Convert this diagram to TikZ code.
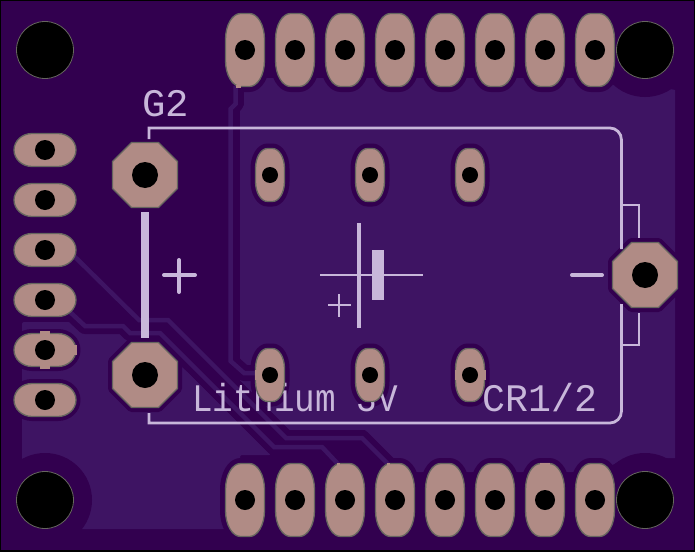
\documentclass[tikz,border=0pt]{standalone}
\usepackage{fontspec}
\newfontfamily\silkfont{Liberation Mono}
\definecolor{boardbg}{HTML}{32004F}
\definecolor{pourcol}{HTML}{3E1463}
\definecolor{padcol}{HTML}{B08B85}
\definecolor{padline}{HTML}{66665F}
\definecolor{silkcol}{HTML}{C8B7DA}
\tikzset{
  padbody/.style={fill=padcol,draw=padline,line width=1.3pt,line join=round},
  padclear/.style={fill=boardbg,draw=boardbg,line width=#1,line join=round},
  tracewire/.style={draw=pourcol,line width=4.5pt,line join=miter},
  traceclear/.style={draw=boardbg,line width=16pt,line join=round},
  silkline/.style={draw=silkcol,line width=2.8pt,line cap=butt},
  silkbold/.style={draw=silkcol,line width=4pt,line cap=round},
  drillhole/.style={fill=black},
  mounthole/.style={fill=black,draw=padline,line width=0.8pt},
  spoke/.style={fill=padcol},
  silktext/.style={text=silkcol,inner sep=0pt,outer sep=0pt,font=\silkfont\fontsize{39}{39}\selectfont}
}
\newcommand\oblong[7]{%
  \pgfmathsetmacro\xa{#2-#4}\pgfmathsetmacro\xb{#2+#4}%
  \pgfmathsetmacro\ya{#3-#5}\pgfmathsetmacro\yb{#3+#5}%
  \pgfmathsetmacro\xc{#2-#4+#6}\pgfmathsetmacro\xd{#2+#4-#6}%
  \pgfmathsetmacro\yc{#3-#5+#7}\pgfmathsetmacro\yd{#3+#5-#7}%
  \pgfmathsetmacro\xe{#2-#4+0.45*#6}\pgfmathsetmacro\xf{#2+#4-0.45*#6}%
  \pgfmathsetmacro\ye{#3-#5+0.45*#7}\pgfmathsetmacro\yf{#3+#5-0.45*#7}%
  \path[#1] (\xa,\yc) .. controls (\xa,\ye) and (\xe,\ya) .. (\xc,\ya) -- (\xd,\ya)
    .. controls (\xf,\ya) and (\xb,\ye) .. (\xb,\yc) -- (\xb,\yd)
    .. controls (\xb,\yf) and (\xf,\yb) .. (\xd,\yb) -- (\xc,\yb)
    .. controls (\xe,\yb) and (\xa,\yf) .. (\xa,\yd) -- cycle;%
}
\newcommand\octagon[4]{%
  \path[#1,shift={(#2,#3)}] (-#4,-13.5) -- (-13.5,-#4) -- (13.5,-#4) -- (#4,-13.5) -- (#4,13.5) -- (13.5,#4) -- (-13.5,#4) -- (-#4,13.5) -- cycle;%
}
\begin{document}
\begin{tikzpicture}[x=1pt,y=-1pt]
\useasboundingbox (0,0) rectangle (695,551);
\fill[boardbg] (0,0) rectangle (695,551);
% copper pour
\fill[pourcol] (240,110) -- (244,105) -- (244,78) -- (615,78) -- (675,90) -- (675,458) -- (625,458) -- (600,472) -- (400,472) -- (365,430) -- (288,430) -- (240,382) -- cycle;
\fill[pourcol,rounded corners=2pt] (22,322) -- (72,322) -- (84,334) -- (145,334) -- (192,376) -- (271,455) -- (240,455) -- (240,529) -- (22,529) -- cycle;
% clearances
\foreach \cx in {45,645} {\foreach \cy in {50,500} {\fill[boardbg] (\cx,\cy) circle (47);}}
\foreach \px in {245,295,...,595} {
  \oblong{padclear=11pt}{\px}{50}{19.5}{36.5}{15}{26}
  \oblong{padclear=11pt}{\px}{500}{19.5}{36.5}{15}{26}
}
\foreach \py in {150,200,...,400} {\oblong{padclear=9pt}{45}{\py}{31}{16.5}{18}{16.5}}
\foreach \px in {270,370,470} {
  \oblong{padclear=10pt}{\px}{175}{14.5}{26.5}{12}{20}
  \oblong{padclear=10pt}{\px}{375}{14.5}{26.5}{12}{20}
}
\octagon{padclear=9pt}{145}{175}{32.5}
\octagon{padclear=9pt}{145}{375}{32.5}
\octagon{padclear=9pt}{645}{275}{32.5}
% traces
\coordinate (a1) at (72,254); \coordinate (a2) at (139,320); \coordinate (a3) at (168,320); \coordinate (a4) at (286,438); \coordinate (a5) at (362,438); \coordinate (a6) at (388,464);
\coordinate (b1) at (70,312); \coordinate (b2) at (85,326); \coordinate (b3) at (123,326); \coordinate (b4) at (130,333); \coordinate (b5) at (160,333); \coordinate (b6) at (274,447); \coordinate (b7) at (322,447); \coordinate (b8) at (338,464);
\coordinate (c1) at (235.5,86); \coordinate (c2) at (235.5,104); \coordinate (c3) at (230.5,109); \coordinate (c4) at (230.5,361); \coordinate (c5) at (244,373); \coordinate (c6) at (258,373);
\draw[traceclear] (a1) -- (a2) -- (a3) -- (a4) -- (a5) -- (a6);
\draw[traceclear] (b1) -- (b2) -- (b3) -- (b4) -- (b5) -- (b6) -- (b7) -- (b8);
\draw[traceclear] (c1) -- (c2) -- (c3) -- (c4) -- (c5) -- (c6);
\draw[tracewire] (a1) -- (a2) -- (a3) -- (a4) -- (a5) -- (a6);
\draw[tracewire] (b1) -- (b2) -- (b3) -- (b4) -- (b5) -- (b6) -- (b7) -- (b8);
\draw[tracewire] (c1) -- (c2) -- (c3) -- (c4) -- (c5) -- (c6);
% silkscreen outline
\draw[silkline] (149,139) -- (149,128) -- (610,128) .. controls (616,128) and (621.5,133) .. (621.5,140) -- (621.5,249);
\draw[silkline] (149,413) -- (149,423) -- (610,423) .. controls (616,423) and (621.5,418) .. (621.5,411) -- (621.5,304);
\draw[silkline] (621,205) -- (639,205) -- (639,238);
\draw[silkline] (621,345) -- (639,345) -- (639,313);
\fill[silkcol] (141,212) rectangle (149,338);
\draw[silkbold] (164,275) -- (195,275);
\draw[silkbold] (179,260) -- (179,292);
\draw[silkbold] (572,275) -- (602,275);
\draw[silkline] (320,275) -- (423,275);
\draw[silkline,line width=4.5pt] (359,223) -- (359,328);
\fill[silkcol] (372,250) rectangle (384,300);
\draw[silkline] (328,305) -- (351,305);
\draw[silkline] (339,294) -- (339,317);
\node[silktext,anchor=base west] (g2) at (142,116) {G2};
\node[silktext,anchor=base west] (lith) at (192,411) {\scalebox{0.88}[1]{Lithium 3V}};
\node[silktext,anchor=base west] (cr) at (482.5,411) {\scalebox{0.98}[1]{CR1/2}};
% pads
\foreach \px in {245,295,...,595} {
  \oblong{padbody}{\px}{50}{19.5}{36.5}{15}{26}
  \oblong{padbody}{\px}{500}{19.5}{36.5}{15}{26}
  \fill[drillhole] (\px,50) circle (10);
  \fill[drillhole] (\px,500) circle (10);
}
\foreach \py in {150,200,...,400} {
  \oblong{padbody}{45}{\py}{31}{16.5}{18}{16.5}
  \fill[drillhole] (45,\py) circle (10);
}
\foreach \px in {270,370,470} {
  \oblong{padbody}{\px}{175}{14.5}{26.5}{12}{20}
  \oblong{padbody}{\px}{375}{14.5}{26.5}{12}{20}
  \fill[drillhole] (\px,175) circle (8);
  \fill[drillhole] (\px,375) circle (8);
}
\octagon{padbody}{145}{175}{32.5}
\octagon{padbody}{145}{375}{32.5}
\octagon{padbody}{645}{275}{32.5}
\fill[drillhole] (145,175) circle (13);
\fill[drillhole] (145,375) circle (13);
\fill[drillhole] (645,275) circle (13);
% thermal spokes
\fill[spoke] (40,331) rectangle (50,336);
\fill[spoke] (40,364) rectangle (50,369);
\fill[spoke] (74,345) rectangle (77,355);
\fill[spoke] (255,370) rectangle (258,380);
\fill[spoke] (455,370) rectangle (458,380);
\fill[spoke] (483,370) rectangle (486,380);
\fill[spoke] (540,463) rectangle (550,465);
\fill[spoke] (236,85) rectangle (241,88);
\fill[spoke] (337,463) rectangle (340,465);
\fill[spoke] (387,463) rectangle (390,465);
% mounting holes
\foreach \cx in {45,645} {\foreach \cy in {50,500} {\path[mounthole] (\cx,\cy) circle (28.5);}}
% board edge
\draw[black,line width=2pt] (0,0) rectangle (695,551);
\end{tikzpicture}
\end{document}
